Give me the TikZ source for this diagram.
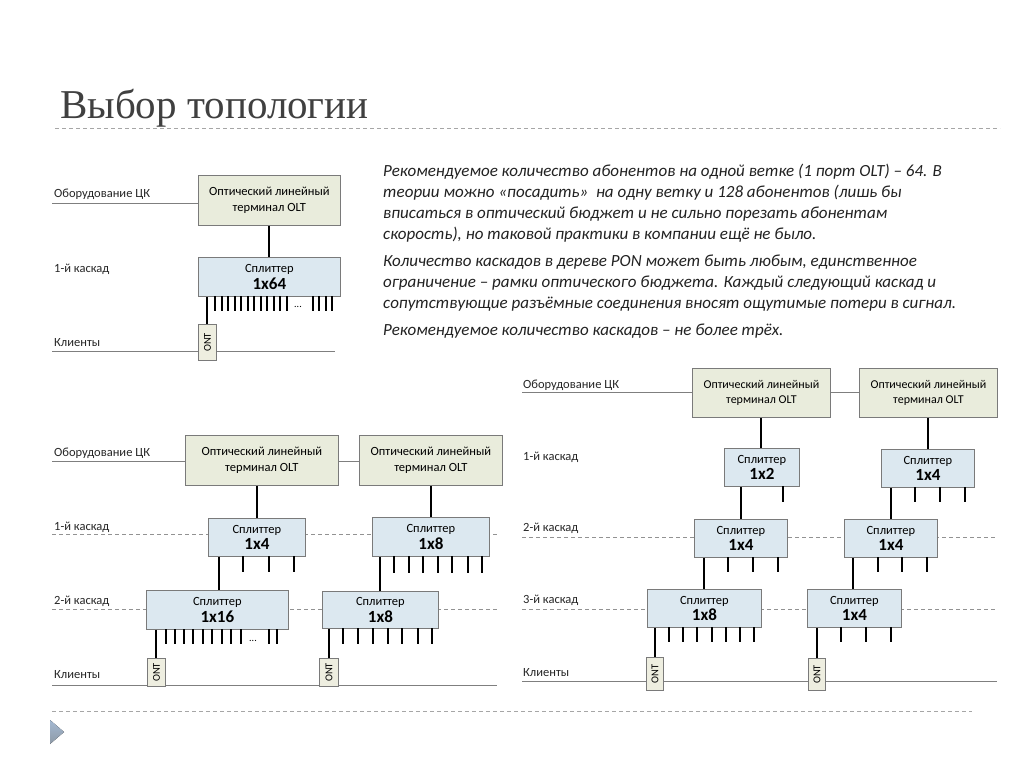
\documentclass[tikz,border=0pt]{standalone}
\usepackage{fontspec}
\setmainfont{Carlito}
\newfontfamily\titlefont{Liberation Serif}
\usetikzlibrary{calc}
\definecolor{oltfill}{HTML}{E9ECDC}
\definecolor{splfill}{HTML}{DCE8F0}
\definecolor{ontfill}{HTML}{EEEEE0}
\definecolor{bordc}{HTML}{7A7A7A}
\definecolor{lblline}{HTML}{7F7F7F}
\definecolor{titlec}{HTML}{404040}
\definecolor{bodyc}{HTML}{222222}
\definecolor{triA}{HTML}{A3B8D2}
\definecolor{triB}{HTML}{8E9AA6}
\tikzset{
  lbl/.style={font=\fontsize{12.5}{14}\selectfont, anchor=base west, inner sep=0, text=black!85},
  para/.style={font=\fontsize{17}{20}\selectfont\itshape, anchor=base west, inner sep=0, text=bodyc},
  hline/.style={draw=lblline, line width=0.9pt},
  dline/.style={draw=lblline!85, line width=0.9pt, dash pattern=on 4pt off 3pt},
  sepline/.style={draw=black!35, line width=0.9pt, dash pattern=on 4pt off 3pt},
  conn/.style={draw=black, line width=2pt},
  tick/.style={draw=black, line width=2pt},
  box/.style={draw=bordc, line width=0.8pt, inner sep=0, anchor=north west, align=center},
  olt/.style={box, fill=oltfill, font=\fontsize{12.5}{16.5}\selectfont},
  oltc/.style={box, fill=oltfill, font=\fontsize{12}{14.5}\selectfont},
  spl/.style={box, fill=splfill, font=\fontsize{12.5}{16.5}\selectfont},
  ont/.style={box, fill=ontfill, font=\fontsize{10.5}{11}\selectfont}
}
\newcommand{\spltxt}[1]{Сплиттер\\{\bfseries\fontsize{17}{17}\selectfont #1}}
\begin{document}
\begin{tikzpicture}[x=1pt,y=-1pt]
\useasboundingbox[fill=white] (0,0) rectangle (1024,768);

% title
\node[font=\titlefont\fontsize{41}{44}\selectfont, text=titlec, anchor=base west, inner sep=0] (title) at (60,118) {Выбор топологии};
\coordinate (sepA) at (55,128);
\coordinate (sepB) at (1000,128);
\draw[sepline] (sepA) -- (sepB);
\coordinate (sepC) at (52,711);
\coordinate (sepD) at (972,711);
\draw[sepline] (sepC) -- (sepD);
\fill[top color=triA, bottom color=triB] (50,720) -- (64,732) -- (50,744) -- cycle;

% text
\node[para] (p1) at (383,176) {Рекомендуемое количество абонентов на одной ветке (1 порт OLT) – 64. В};
\node[para] (p2) at (383,197) {теории можно «посадить»\ \ на одну ветку и 128 абонентов (лишь бы};
\node[para] (p3) at (383,218) {вписаться в оптический бюджет и не сильно порезать абонентам};
\node[para] (p4) at (383,239) {скорость), но таковой практики в компании ещё не было.};
\node[para] (p5) at (383,266) {Количество каскадов в дереве PON может быть любым, единственное};
\node[para] (p6) at (383,287) {ограничение – рамки оптического бюджета. Каждый следующий каскад и};
\node[para] (p7) at (383,308) {сопутствующие разъёмные соединения вносят ощутимые потери в сигнал.};
\node[para] (p8) at (383,335) {Рекомендуемое количество каскадов – не более трёх.};

% ---------------- diagram 1
\node[lbl] (l11) at (54,197) {Оборудование ЦК};
\node[lbl] (l12) at (54,272) {1-й каскад};
\node[lbl] (l13) at (54,346) {Клиенты};
\coordinate (h11) at (52,203);
\coordinate (h13a) at (52,351);
\coordinate (h13b) at (335,351);
\draw[hline] (h13a) -- (h13b);
\node[olt, minimum width=142pt, minimum height=50pt] (o1) at (198,175) {Оптический линейный\\терминал OLT};
\draw[hline] (h11) -- (h11 -| o1.west);
\node[spl, minimum width=142pt, minimum height=39pt] (s1) at (198,257) {\spltxt{1x64}};
\draw[conn] (o1.south) -- (o1.south |- s1.north);
\foreach \x in {215,221.5,...,287} \draw[tick] (\x,296) -- (\x,311);
\foreach \x in {313,319.3,325.6,332} \draw[tick] (\x,296) -- (\x,311);
\node[font=\fontsize{10}{10}\selectfont, inner sep=0] (d1) at (298,307) {...};
\node[ont, minimum width=18pt, minimum height=36pt] (n1) at (198,324) {\rotatebox{90}{ONT}};
\draw[conn] (s1.south -| n1.north) -- (n1.north);

% ---------------- diagram 2
\node[lbl] (l21) at (54,456) {Оборудование ЦК};
\node[lbl] (l22) at (54,530) {1-й каскад};
\node[lbl] (l23) at (54,604) {2-й каскад};
\node[lbl] (l24) at (54,678) {Клиенты};
\coordinate (h21) at (52,461);
\coordinate (d21a) at (52,534);
\coordinate (d21b) at (497,534);
\coordinate (d22a) at (52,609);
\coordinate (d22b) at (497,609);
\coordinate (h24a) at (52,685);
\coordinate (h24b) at (497,685);
\draw[dline] (d21a) -- (d21b);
\draw[dline] (d22a) -- (d22b);
\draw[hline] (h24a) -- (h24b);
\node[olt, minimum width=153pt, minimum height=50pt] (o21) at (185,435) {Оптический линейный\\терминал OLT};
\node[olt, minimum width=143pt, minimum height=50pt] (o22) at (359,435) {Оптический линейный\\терминал OLT};
\draw[hline] (h21) -- (h21 -| o21.west);
\draw[hline] (h21 -| o21.east) -- (h21 -| o22.west);
\node[spl, minimum width=97pt, minimum height=38pt] (s21) at (208,518) {\spltxt{1x4}};
\node[spl, minimum width=117pt, minimum height=39pt] (s22) at (372,517) {\spltxt{1x8}};
\node[spl, minimum width=142pt, minimum height=39pt] (s23) at (146,590) {\spltxt{1x16}};
\node[spl, minimum width=116pt, minimum height=37pt] (s24) at (322,591) {\spltxt{1x8}};
\node[ont, minimum width=18pt, minimum height=28pt] (n21) at (147,658) {\rotatebox{90}{ONT}};
\node[ont, minimum width=19pt, minimum height=28pt] (n22) at (319,658) {\rotatebox{90}{ONT}};
\coordinate (x219) at (219,0);
\coordinate (x380) at (380,0);
\draw[conn] (s21.north |- o21.south) -- (s21.north);
\draw[conn] (o22.south) -- (s22.north);
\draw[conn] (s21.south -| x219) -- (s23.north -| x219);
\draw[conn] (s22.south -| x380) -- (s24.north -| x380);
\draw[conn] (s23.south -| n21.north) -- (n21.north);
\draw[conn] (s24.south -| n22.north) -- (n22.north);
\foreach \x in {243,269,294} \draw[tick] (\x,556) -- (\x,572);
\foreach \x in {394,409,423,438,452,468,482} \draw[tick] (\x,556) -- (\x,573);
\foreach \x in {166,175,184,193,203,212,222,231,241,269,277} \draw[tick] (\x,629) -- (\x,644);
\node[font=\fontsize{10}{10}\selectfont, inner sep=0] (d2) at (253,641) {...};
\foreach \x in {343,358,373,388,402,418,432} \draw[tick] (\x,628) -- (\x,644);

% ---------------- diagram 3
\node[lbl] (l31) at (523,388) {Оборудование ЦК};
\node[lbl] (l32) at (523,460) {1-й каскад};
\node[lbl] (l33) at (523,531) {2-й каскад};
\node[lbl] (l34) at (523,603) {3-й каскад};
\node[lbl] (l35) at (523,676) {Клиенты};
\coordinate (h31) at (522,392);
\coordinate (d32a) at (522,537);
\coordinate (d32b) at (997,537);
\coordinate (d33a) at (522,609);
\coordinate (d33b) at (997,609);
\coordinate (h35a) at (522,681);
\coordinate (h35b) at (997,681);
\draw[dline] (d32a) -- (d32b);
\draw[dline] (d33a) -- (d33b);
\draw[hline] (h35a) -- (h35b);
\node[oltc, minimum width=138pt, minimum height=49pt] (o31) at (692,368) {Оптический линейный\\терминал OLT};
\node[oltc, minimum width=138pt, minimum height=49pt] (o32) at (859,368) {Оптический линейный\\терминал OLT};
\draw[hline] (h31) -- (h31 -| o31.west);
\draw[hline] (h31 -| o31.east) -- (h31 -| o32.west);
\node[spl, minimum width=75pt, minimum height=38pt] (s31) at (724,448) {\spltxt{1x2}};
\node[spl, minimum width=93pt, minimum height=38pt] (s32) at (881,449) {\spltxt{1x4}};
\node[spl, minimum width=93pt, minimum height=38pt] (s33) at (694,519) {\spltxt{1x4}};
\node[spl, minimum width=93pt, minimum height=38pt] (s34) at (844,519) {\spltxt{1x4}};
\node[spl, minimum width=114pt, minimum height=38pt] (s35) at (647,589) {\spltxt{1x8}};
\node[spl, minimum width=94pt, minimum height=38pt] (s36) at (807,589) {\spltxt{1x4}};
\node[ont, minimum width=17pt, minimum height=33pt] (n31) at (646,657) {\rotatebox{90}{ONT}};
\node[ont, minimum width=17pt, minimum height=32pt] (n32) at (808,658) {\rotatebox{90}{ONT}};
\coordinate (x741) at (741,0);
\coordinate (x891) at (891,0);
\coordinate (x704) at (704,0);
\coordinate (x853) at (853,0);
\draw[conn] (o31.south) -- (o31.south |- s31.north);
\draw[conn] (o32.south) -- (o32.south |- s32.north);
\draw[conn] (s31.south -| x741) -- (s33.north -| x741);
\draw[conn] (s32.south -| x891) -- (s34.north -| x891);
\draw[conn] (s33.south -| x704) -- (s35.north -| x704);
\draw[conn] (s34.south -| x853) -- (s36.north -| x853);
\draw[conn] (s35.south -| n31.north) -- (n31.north);
\draw[conn] (s36.south -| n32.north) -- (n32.north);
\foreach \x in {783} \draw[tick] (\x,486) -- (\x,502);
\foreach \x in {915,940,965} \draw[tick] (\x,487) -- (\x,502);
\foreach \x in {728,753,778} \draw[tick] (\x,557) -- (\x,572);
\foreach \x in {878,902,927} \draw[tick] (\x,557) -- (\x,572);
\foreach \x in {669,683,697,712,726,740,754} \draw[tick] (\x,627) -- (\x,642);
\foreach \x in {841,866,891} \draw[tick] (\x,627) -- (\x,642);
\end{tikzpicture}
\end{document}
